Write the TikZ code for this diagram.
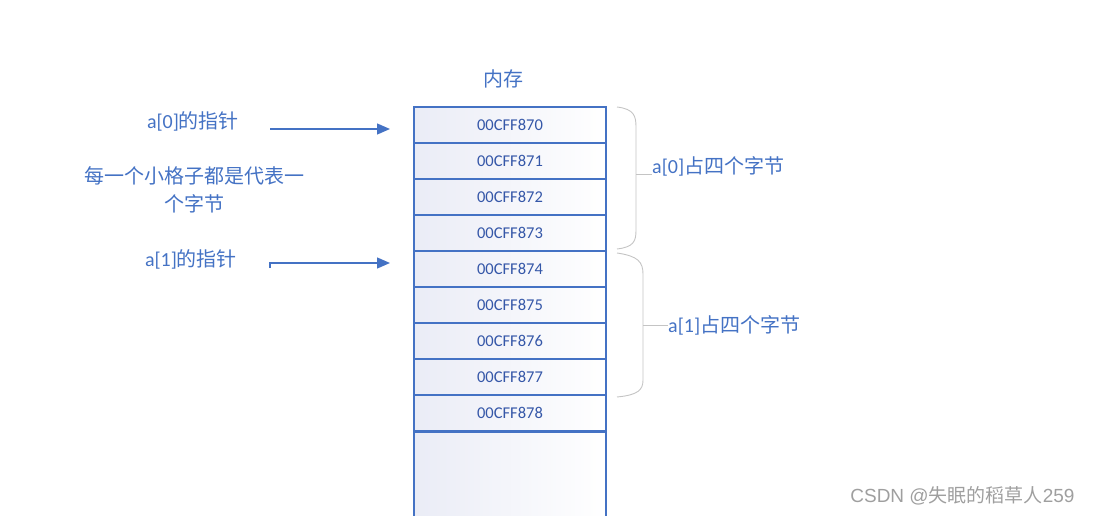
\documentclass[tikz,border=0pt]{standalone}
\usepackage{fontspec}
\setmainfont{Carlito}
\newfontfamily\cjk{Noto Sans CJK SC}
\newfontfamily\wmfont{Liberation Sans}
\usetikzlibrary{arrows.meta}

\definecolor{lblue}{HTML}{4472C4}
\definecolor{cblue}{HTML}{3557A8}
\definecolor{cellshade}{HTML}{EAECF6}
\definecolor{bracegray}{HTML}{C4C4C4}

\tikzset{
  cell/.style = {draw=lblue, line width=1.6pt, left color=cellshade, right color=white,
                 minimum width=192pt, minimum height=36pt, inner sep=0pt,
                 text=cblue, font=\fontsize{16.5pt}{18pt}\selectfont},
  lbl/.style  = {text=lblue, font=\fontsize{20pt}{28pt}\selectfont, inner sep=0pt, align=center},
  ptr/.style  = {draw=lblue, line width=1.3pt, -{Triangle[length=13pt,width=11pt]}},
  brace/.style = {draw=bracegray, line width=0.9pt}
}

\begin{document}
\begin{tikzpicture}[x=1pt,y=-1pt]
  \useasboundingbox (0,0) rectangle (1093,516);

  % memory column
  \node[lbl] (mem) at (503,79) {\cjk 内存};
  \foreach \i in {0,...,8}
    \node[cell] (c\i) at (510,{125+36*\i}) {00CFF87\i};
  \node[cell, minimum height=90pt, anchor=north] (rest) at (c8.south) {};

  % pointers
  \node[lbl] (a0) at (193,121) {a[0]{\cjk 的指针}};
  \node[lbl] (note) at (194,190) {{\cjk 每一个小格子都是代表一}\\{\cjk 个字节}};
  \node[lbl] (a1) at (191,259) {a[1]{\cjk 的指针}};
  \coordinate (p0) at (270,129);
  \coordinate (e0) at (390,129);
  \coordinate (p1) at (270,268);
  \coordinate (e1) at (390,263);
  \draw[ptr] (p0) -- (e0);
  \draw[ptr] (p1) |- (e1);

  % braces
  \draw[brace] (617,107) .. controls (634,109) and (636,116) .. (636,127)
    -- (636,230) .. controls (636,241) and (634,247) .. (617,249);
  \coordinate (b0) at (636,174);
  \node[lbl, anchor=west] (s0) at (652,166) {a[0]{\cjk 占四个字节}};
  \draw[brace] (b0) -- (s0.west |- b0);

  \draw[brace] (617,253) .. controls (638,256) and (643,262) .. (643,274)
    -- (643,380) .. controls (643,390) and (638,395) .. (617,397);
  \coordinate (b1) at (643,325);
  \node[lbl, anchor=west] (s1) at (668,325) {a[1]{\cjk 占四个字节}};
  \draw[brace] (b1) -- (s1.west);

  % watermark
  \node[text=gray!75, font=\fontsize{19pt}{20pt}\selectfont, anchor=east] (wm) at (1078,496)
    {\wmfont CSDN @{\cjk 失眠的稻草人}259};
\end{tikzpicture}
\end{document}
